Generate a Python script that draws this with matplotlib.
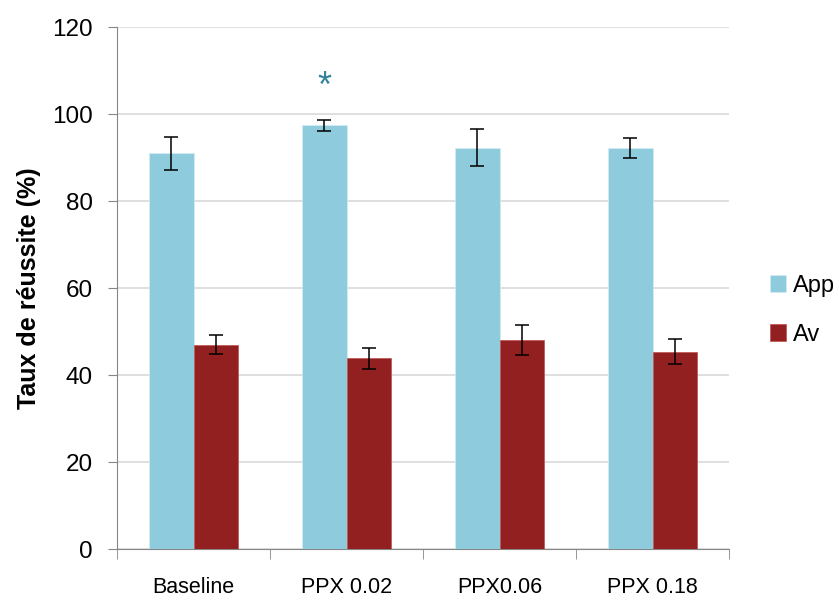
import numpy as np
from matplotlib import pyplot as plt

# Data
categories = ["Baseline", "PPX 0.02", "PPX0.06", "PPX 0.18"]
app_values = [91.0, 97.4, 92.3, 92.3]
app_errors = [3.8, 1.2, 4.2, 2.3]
av_values = [47.0, 43.8, 48.0, 45.4]
av_errors = [2.1, 2.4, 3.4, 2.8]
series_names = ["App", "Av"]
star_index = 1
star_value = 106

plt.rcParams["font.family"] = ["Liberation Sans", "DejaVu Sans"]

fig = plt.figure(figsize=(8.39, 6.01), dpi=100)
ax = fig.add_axes([0.1395, 0.0865, 0.7295, 0.8685])

x = np.arange(len(categories))
width = 0.29
err_kw = dict(ecolor="black", elinewidth=1.1, capsize=5, capthick=1.1)
ax.bar(x - width / 2, app_values, width, yerr=app_errors, color="#8ECBDC",
       edgecolor="#d4eef5", linewidth=0.5, label=series_names[0], error_kw=err_kw, zorder=3)
ax.bar(x + width / 2, av_values, width, yerr=av_errors, color="#922020",
       edgecolor="#c05050", linewidth=0.5, label=series_names[1], error_kw=err_kw, zorder=3)

# significance marker
ax.text(x[star_index] - width / 2, star_value, "*", color="#31849B",
        fontsize=26, ha="center", va="center")

ax.set_xlim(-0.5, len(categories) - 0.5)
ax.set_ylim(0, 120)
ax.set_yticks(range(0, 121, 20))
ax.yaxis.grid(True, color="#d9d9d9", linewidth=1.2, zorder=0)
ax.set_axisbelow(True)

ax.set_xticks(x)
ax.set_xticklabels(categories, fontsize=15.5)
ax.set_xticks(np.arange(-0.5, len(categories), 1), minor=True)
ax.tick_params(axis="x", which="major", length=0, pad=20)
ax.tick_params(axis="x", which="minor", length=7, color="#868686", direction="out")
ax.tick_params(axis="y", labelsize=17.5, length=6.5, color="#868686", pad=11)

for side in ["top", "right"]:
    ax.spines[side].set_visible(False)
for side in ["left", "bottom"]:
    ax.spines[side].set_color("#868686")

ax.set_ylabel("Taux de réussite (%)", fontsize=18, fontweight="bold", labelpad=8)

fig.legend(loc="center left", bbox_to_anchor=(0.892, 0.484), frameon=False,
           fontsize=17, handlelength=0.7, handleheight=0.7, handletextpad=0.3,
           labelspacing=1.15)

fig.savefig("out.png", dpi=100)
